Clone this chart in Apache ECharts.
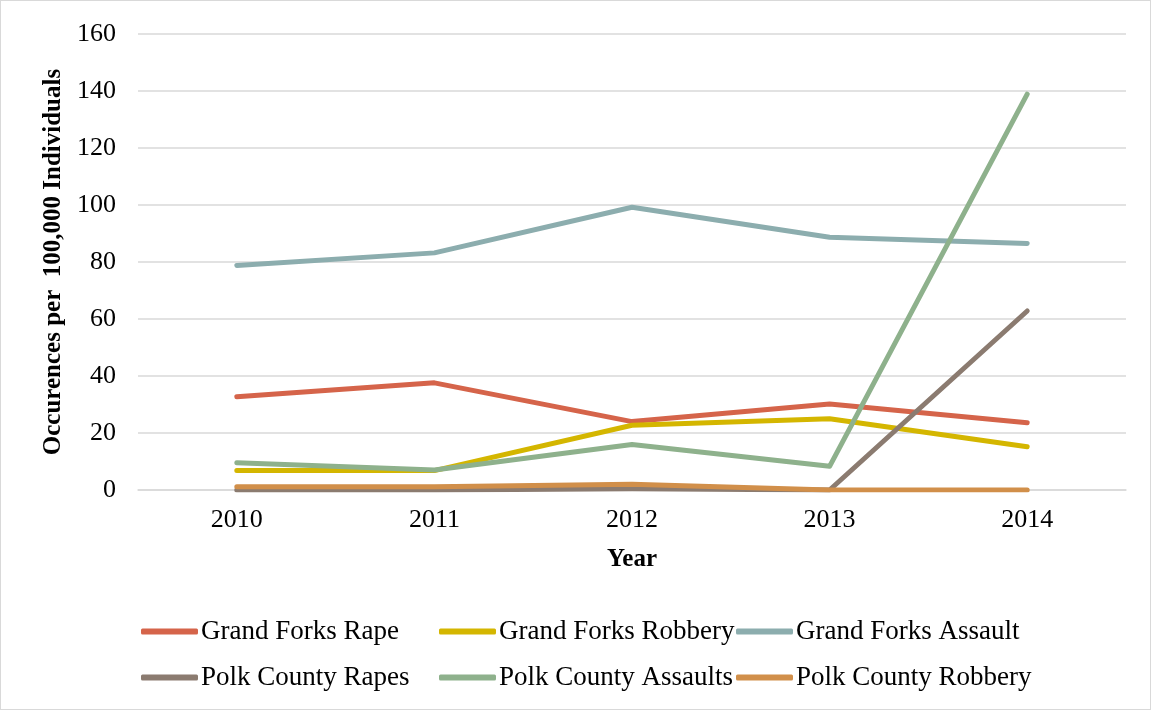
<!DOCTYPE html>
<html><head><meta charset="utf-8">
<script src="https://cdn.jsdelivr.net/npm/echarts@6/dist/echarts.min.js"></script>
<style>
html,body{margin:0;padding:0;background:#fff;}
#c{width:1151px;height:710px;box-sizing:border-box;border:1px solid #d9d9d9;position:relative;}
</style></head><body>
<div id="c"></div>
<script>
const years = ['2010','2011','2012','2013','2014'];
const gfRape = [32.7, 37.6, 24.0, 30.2, 23.6];
const gfRobbery = [6.8, 6.8, 22.7, 25.0, 15.2];
const gfAssault = [78.8, 83.2, 99.2, 88.7, 86.5];
const polkRapes = [0, 0, 0.4, 0, 62.8];
const polkAssaults = [9.6, 7.0, 16.0, 8.3, 138.9];
const polkRobbery = [1.1, 1.1, 2.0, 0, 0];
const seriesNames = ['Grand Forks Rape','Grand Forks Robbery','Grand Forks Assault','Polk County Rapes','Polk County Assaults','Polk County Robbery'];
const seriesData = [gfRape, gfRobbery, gfAssault, polkRapes, polkAssaults, polkRobbery];
const colors = ['#D5644A','#D4B600','#8CADAE','#8B7B70','#8EB18C','#D18F4A'];

const font = 'Liberation Serif';
const chart = echarts.init(document.getElementById('c'), null, {renderer:'canvas'});
const legendPos = [[140,617],[438,617],[735,617],[140,663],[438,663],[735,663]];
const legends = seriesNames.map((n,i)=>({
  data:[n], left:legendPos[i][0], top:legendPos[i][1], padding:0,
  itemWidth:57, itemHeight:6, itemGap:0,
  icon:'roundRect',
  textStyle:{fontFamily:font,fontSize:27,color:'#000',padding:[0,0,0,-2]},
  selectedMode:false
}));
chart.setOption({
  animation:false,
  color:colors,
  grid:{left:137,right:24,top:33,bottom:219},
  legend:legends,
  xAxis:{
    type:'category', data:years, boundaryGap:true,
    name:'Year', nameLocation:'middle', nameGap:57,
    nameTextStyle:{fontFamily:font,fontSize:25,fontWeight:'bold',color:'#000'},
    axisLine:{lineStyle:{color:'#d9d9d9',width:1.5}},
    axisTick:{show:false},
    axisLabel:{fontFamily:font,fontSize:26,color:'#000',margin:17}
  },
  yAxis:{
    type:'value', min:0, max:160, interval:20,
    name:'Occurences per  100,000 Individuals', nameLocation:'middle', nameGap:71,
    nameTextStyle:{fontFamily:font,fontSize:25,fontWeight:'bold',color:'#000'},
    axisLine:{show:false}, axisTick:{show:false},
    splitLine:{lineStyle:{color:'#d9d9d9',width:1.5}},
    axisLabel:{fontFamily:font,fontSize:26,color:'#000',margin:22}
  },
  series:seriesNames.map((n,i)=>({
    name:n, type:'line', data:seriesData[i], symbol:'none',
    lineStyle:{width:5,color:colors[i],cap:'round',join:'round'},
    itemStyle:{color:colors[i]}
  }))
});
</script></body></html>
